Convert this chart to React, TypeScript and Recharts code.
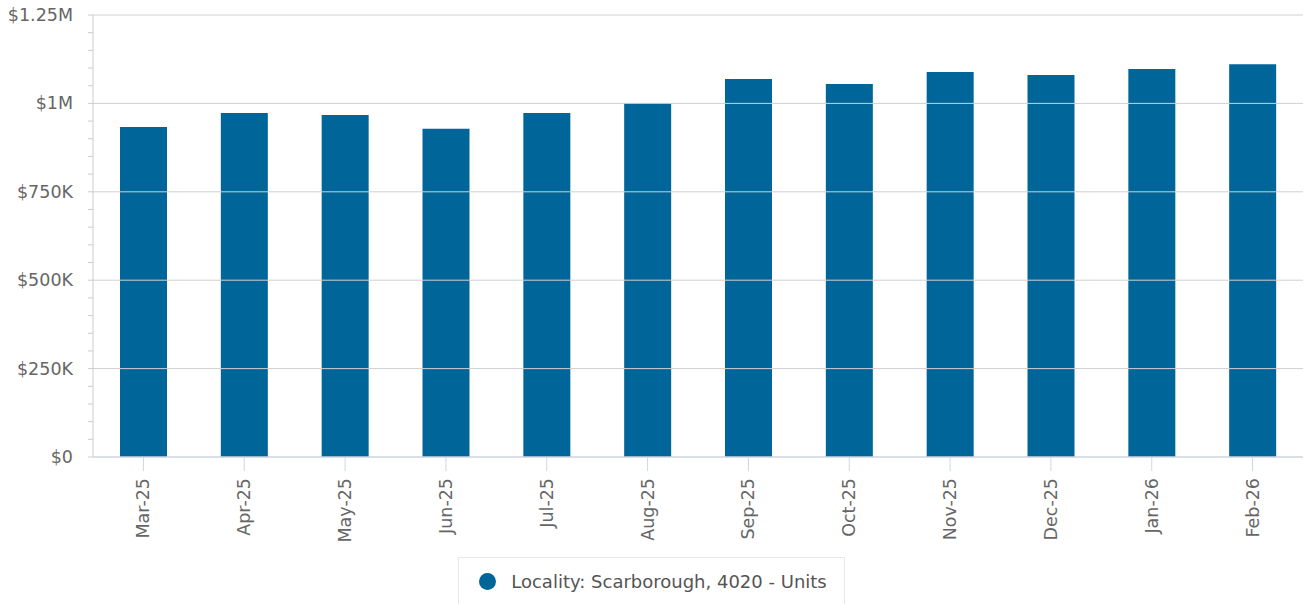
import { Bar, BarChart, Legend, ReferenceLine, XAxis, YAxis } from "recharts";

const months = ["Mar-25", "Apr-25", "May-25", "Jun-25", "Jul-25", "Aug-25", "Sep-25", "Oct-25", "Nov-25", "Dec-25", "Jan-26", "Feb-26"];
const medianPrice = [933000, 973000, 967000, 928000, 973000, 1001000, 1069000, 1055000, 1089000, 1080000, 1097000, 1111000];
const majorTicks = [0, 250000, 500000, 750000, 1000000, 1250000];
const minorTicks = [0, 50000, 100000, 150000, 200000, 250000, 300000, 350000, 400000, 450000, 500000, 550000, 600000, 650000, 700000, 750000, 800000, 850000, 900000, 950000, 1000000, 1050000, 1100000, 1150000, 1200000, 1250000];
const seriesName = "Locality: Scarborough, 4020 - Units";

const data = months.map((m, i) => ({ month: m, value: medianPrice[i] }));

const font = "'DejaVu Sans', sans-serif";

function money(v: number) {
    if (v === 0) return "$0";
    if (v >= 1000000) return "$" + v / 1000000 + "M";
    return "$" + v / 1000 + "K";
}

function YTick({ x, y, payload }: any) {
    if (!majorTicks.includes(payload.value)) return <g />;
    return (
        <text x={x} y={y} dy={6} textAnchor="end" fill="#666" fontSize={17.5} fontFamily={font}>
            {money(payload.value)}
        </text>
    );
}

function XTick({ x, y, payload }: any) {
    const ty = y + 5;
    return (
        <text x={x} y={ty} dy={6} textAnchor="end" fill="#666" fontSize={17.5} fontFamily={font} transform={`rotate(-90, ${x}, ${ty})`}>
            {payload.value}
        </text>
    );
}

function LegendBox() {
    return (
        <div style={{ display: "flex", justifyContent: "center" }}>
            <div style={{ display: "flex", alignItems: "center", height: 46, border: "1px solid #e8e8e8", borderBottom: "none", padding: "0 17px 0 20px", fontFamily: font, fontSize: 18, color: "#555" }}>
                <span style={{ width: 17, height: 17, borderRadius: 9, background: "#006699", marginRight: 15, display: "inline-block" }} />
                {seriesName}
            </div>
        </div>
    );
}

export default function App() {
    return (
        <div style={{ position: "absolute", left: 0, top: 0, background: "#fff" }}>
            <BarChart width={1306} height={605} data={data} margin={{ top: 15, right: 3, left: 0, bottom: 0 }}>
                {majorTicks.map((t) => (
                    <ReferenceLine key={t} y={t} stroke="#d0d0d0" strokeWidth={1} />
                ))}
                <XAxis dataKey="month" height={100} interval={0} tickSize={14} stroke="#ccd6eb" tickLine={{ stroke: "#ccd6eb" }} tick={<XTick />} />
                <YAxis width={93} domain={[0, 1250000]} ticks={minorTicks} interval={0} tickSize={5} tickMargin={15} stroke="#ccc" tick={<YTick />} />
                <Legend verticalAlign="bottom" height={48} content={<LegendBox />} />
                <Bar dataKey="value" name={seriesName} fill="#006699" barSize={47} isAnimationActive={false} />
            </BarChart>
        </div>
    );
}
